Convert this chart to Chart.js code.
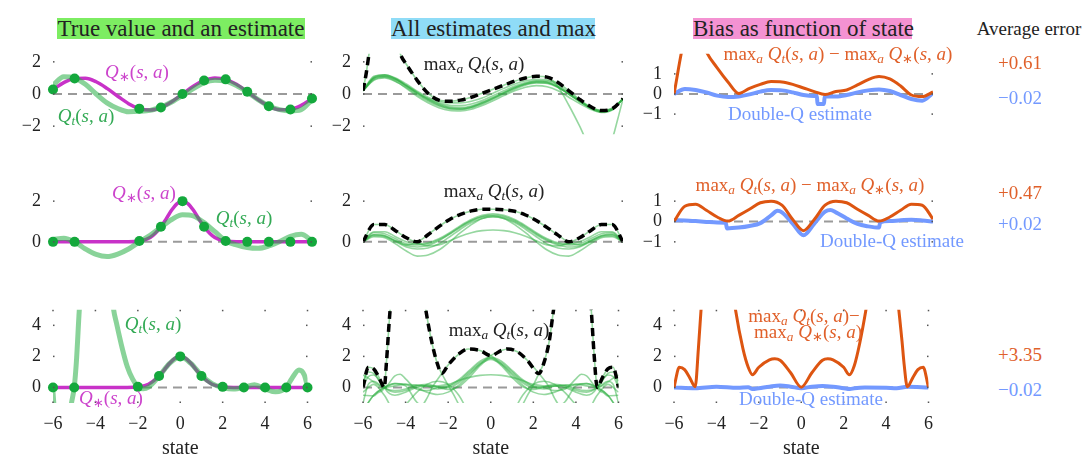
<!DOCTYPE html>
<html>
<head>
<meta charset="utf-8">
<script src="https://cdn.jsdelivr.net/npm/chart.js@4.4.1/dist/chart.umd.min.js"></script>
<style>
  body { margin: 0; background: #fff; width: 1088px; height: 464px; overflow: hidden; position: relative; font-family: "Liberation Serif", serif; }
  canvas { position: absolute; }
  .t { position: absolute; white-space: nowrap; transform: translate(-50%, -50%); font-size: 19px; line-height: 1; }
  .t sub { font-size: 0.7em; vertical-align: -0.3em; line-height: 0; }
  .title { position: absolute; height: 21px; line-height: 22px; text-align: center; font-size: 23px; white-space: nowrap; color: #222; }
</style>
</head>
<body>

<div class="title" style="left:57px;top:18px;width:248px;background:#7ded62">True value and an estimate</div>
<div class="title" style="left:391px;top:18px;width:204px;background:#8fdcf7">All estimates and max</div>
<div class="title" style="left:693px;top:18px;width:219px;background:#f492d2">Bias as function of state</div>
<div class="t" style="left:1029px;top:28px;color:#222">Average error</div>

<script>
// states on a regular grid
const states = [-6, -5.5, -5, -4.5, -4, -3.5, -3, -2.5, -2, -1.5, -1, -0.5, 0, 0.5, 1, 1.5, 2, 2.5, 3, 3.5, 4, 4.5, 5, 5.5, 6];
const sampleStates = [-6, -5, -2, -1, 0, 1, 2, 3, 4, 5, 6];
const xTicks = [-6, -4, -2, 0, 2, 4, 6];

// ---- row 1 : sin-like true value
const r1TrueQ = [0.28, 0.71, 0.96, 0.98, 0.76, 0.35, -0.14, -0.6, -0.91, -1.0, -0.84, -0.48, 0, 0.48, 0.84, 1.0, 0.91, 0.6, 0.14, -0.35, -0.76, -0.98, -0.96, -0.71, -0.28];
const r1Samples = [0.28, 0.96, -0.91, -0.84, 0, 0.84, 0.91, 0.14, -0.76, -0.96, -0.28];
const r1Estimate = [0.55, 1.08, 1.0, 0.6, 0.0, -0.55, -0.9, -1.1, -1.08, -1.02, -0.82, -0.5, -0.1, 0.33, 0.7, 0.86, 0.8, 0.52, 0.12, -0.35, -0.74, -0.97, -1.05, -0.97, -0.35];
const r1Estimates = [
  [0.2, 1.0, 1.15, 0.95, 0.55, 0.1, -0.3, -0.6, -0.8, -0.85, -0.75, -0.5, -0.2, 0.1, 0.4, 0.62, 0.75, 0.72, 0.45, 0.0, -0.45, -0.85, -1.05, -0.9, -0.3],
  [0.2, 1.05, 1.2, 1.0, 0.62, 0.18, -0.2, -0.45, -0.55, -0.55, -0.45, -0.25, 0.05, 0.35, 0.62, 0.82, 0.92, 0.88, 0.68, 0.2, -0.35, -0.8, -1.05, -0.95, -0.3],
  [0.2, 0.9, 1.05, 0.8, 0.35, -0.15, -0.55, -0.85, -1.02, -1.05, -0.95, -0.72, -0.42, -0.1, 0.2, 0.42, 0.52, 0.45, 0.2, -0.2, -0.6, -0.95, -1.15, -1.0, -0.3],
  [0.2, 1.1, 1.2, 0.95, 0.5, 0.05, -0.35, -0.65, -0.85, -0.9, -0.8, -0.55, -0.25, 0.08, 0.4, 0.65, 0.8, 0.8, 0.55, 0.1, -0.4, -0.85, -1.1, -0.95, -0.3],
  [0.2, 0.95, 1.1, 0.88, 0.48, 0.02, -0.38, -0.7, -0.9, -0.95, -0.85, -0.62, -0.32, 0.0, 0.3, 0.55, 0.68, 0.65, 0.4, -0.02, -0.48, -0.88, -1.1, -0.95, -0.3],
  [0.2, 1.0, 1.1, 0.9, 0.52, 0.1, -0.28, -0.55, -0.7, -0.72, -0.62, -0.4, -0.1, 0.2, 0.5, 0.72, 0.82, 0.75, 0.45, 0.02, -0.45, -0.88, -1.12, -0.98, -0.3],
  [0.2, 0.85, 1.0, 0.78, 0.4, -0.05, -0.45, -0.75, -0.92, -0.95, -0.82, -0.58, -0.28, 0.05, 0.35, 0.6, 0.72, 0.68, 0.42, 0.0, -0.45, -0.82, -1.0, -0.88, -0.3]
];
const r1Outlier = [[-6, 0.2], [-5.85, 1.3], [-5.7, 2.7], [-5.5, 4.2], [-5, 5.5], [-4.5, 3.5], [-4.25, 2.4], [-4, 1.85], [-3.5, 0.85], [-3, 0.05], [-2.5, -0.38], [-2, -0.45], [-1.5, -0.38], [-1, -0.2], [-0.5, 0.05], [0, 0.3], [0.5, 0.55], [1, 0.8], [1.5, 1.0], [2, 1.1], [2.5, 1.05], [3, 0.45], [3.5, -0.7], [4, -2.0], [4.5, -3.4], [5, -3.8], [5.5, -2.8], [5.75, -1.6], [6, -0.3]];
const r1Max = [[-6, 0.2], [-5.85, 1.3], [-5.7, 2.7], [-5.5, 4.2], [-5, 5.5], [-4.5, 3.5], [-4.25, 2.4], [-4, 1.85], [-3.5, 0.85], [-3, 0.05], [-2.5, -0.38], [-2, -0.45], [-1.5, -0.38], [-1, -0.2], [-0.5, 0.05], [0, 0.3], [0.5, 0.55], [1, 0.8], [1.5, 1.0], [2, 1.1], [2.5, 1.05], [3, 0.72], [3.5, 0.2], [4, -0.33], [4.5, -0.78], [5, -1.03], [5.5, -0.92], [6, -0.3]];
const r1Bias = [0.0, 2.8, 3.5, 2.1, 1.3, 0.6, 0.03, 0.28, 0.48, 0.62, 0.6, 0.48, 0.3, 0.12, -0.03, 0.12, 0.2, 0.45, 0.72, 0.87, 0.75, 0.4, -0.05, -0.13, 0.1];
const r1Double = [[-6, 0], [-5.5, 0.25], [-5, 0.2], [-4.5, 0.08], [-4, -0.08], [-3.5, -0.15], [-3, -0.12], [-2.5, -0.02], [-2, 0.12], [-1.5, 0.2], [-1, 0.18], [-0.5, 0.08], [0, -0.05], [0.5, -0.1], [0.62, -0.1], [0.65, -0.5], [0.95, -0.5], [0.98, -0.12], [1.5, -0.12], [2, -0.05], [2.5, 0.08], [3, 0.18], [3.5, 0.23], [4, 0.15], [4.5, -0.05], [5, -0.25], [5.5, -0.33], [6, 0.05]];

// ---- rows 2 and 3 : bump-shaped true value
const bumpStates = [-6, -5, -4, -3, -2.5, -2, -1.5, -1, -0.75, -0.5, -0.25, 0, 0.25, 0.5, 0.75, 1, 1.5, 2, 2.5, 3, 4, 5, 6];
const bumpTrueQ = [0, 0, 0, 0, 0.0, 0.04, 0.21, 0.74, 1.14, 1.56, 1.88, 2.0, 1.88, 1.56, 1.14, 0.74, 0.21, 0.04, 0.0, 0, 0, 0, 0];
const bumpSamples = [0, 0, 0.04, 0.74, 2.0, 0.74, 0.04, 0, 0, 0, 0];

const r2Estimate = [0.12, 0.18, 0.0, -0.35, -0.62, -0.72, -0.6, -0.35, 0.0, 0.32, 0.72, 1.1, 1.33, 1.27, 0.95, 0.5, 0.05, -0.15, -0.28, -0.32, -0.2, 0.02, 0.27, 0.37, 0.05];
const r2Estimates = [
  [0.05, 0.35, 0.3, 0.05, -0.15, -0.02, 0.35, 0.75, 1.1, 1.35, 1.52, 1.6, 1.6, 1.58, 1.5, 1.32, 1.05, 0.7, 0.33, -0.02, -0.15, 0.05, 0.3, 0.35, 0.05],
  [0, 0.85, 0.85, 0.55, 0.2, -0.05, -0.2, -0.15, 0.05, 0.28, 0.45, 0.55, 0.58, 0.55, 0.45, 0.28, 0.05, -0.15, -0.2, -0.05, 0.2, 0.55, 0.85, 0.85, 0],
  [0, 0.45, 0.4, 0.15, -0.1, -0.15, -0.1, 0.1, 0.4, 0.75, 1.05, 1.25, 1.32, 1.25, 1.05, 0.75, 0.4, 0.1, -0.1, -0.15, -0.1, 0.15, 0.4, 0.45, 0],
  [0, 0.35, 0.3, 0.05, -0.18, -0.25, -0.18, 0.05, 0.38, 0.72, 1.02, 1.22, 1.28, 1.2, 1.0, 0.7, 0.35, 0.05, -0.15, -0.25, -0.2, 0.05, 0.3, 0.38, 0],
  [0, 0.25, 0.2, -0.1, -0.45, -0.7, -0.65, -0.4, 0.0, 0.45, 0.85, 1.15, 1.25, 1.15, 0.85, 0.45, 0.0, -0.4, -0.65, -0.7, -0.45, -0.1, 0.2, 0.25, 0],
  [0, 0.5, 0.5, 0.25, 0.0, -0.1, -0.05, 0.15, 0.45, 0.8, 1.1, 1.3, 1.38, 1.3, 1.1, 0.8, 0.45, 0.15, -0.05, -0.1, 0.0, 0.25, 0.5, 0.5, 0],
  [0, 0.3, 0.25, 0.0, -0.25, -0.35, -0.3, -0.1, 0.25, 0.62, 0.95, 1.15, 1.22, 1.15, 0.95, 0.62, 0.25, -0.1, -0.3, -0.35, -0.25, 0.0, 0.25, 0.3, 0]
];
const r2Max = [0, 0.85, 0.85, 0.55, 0.2, 0.0, 0.35, 0.75, 1.1, 1.35, 1.52, 1.6, 1.6, 1.58, 1.5, 1.32, 1.05, 0.7, 0.33, 0.0, 0.2, 0.55, 0.85, 0.85, 0];
const r2Bias = [0.0, 0.75, 0.85, 0.55, 0.22, 0.02, 0.3, 0.6, 0.92, 1.0, 0.8, 0.1, -0.45, 0.1, 0.8, 1.0, 0.92, 0.6, 0.3, 0.02, 0.22, 0.55, 0.85, 0.8, 0.12];
const r2Double = [[-6, 0.06], [-5.5, 0.05], [-5, 0.02], [-4.5, -0.02], [-4, -0.05], [-3.6, -0.06], [-3.55, -0.34], [-3, -0.3], [-2.5, -0.22], [-2, -0.08], [-1.5, 0.3], [-1.2, 0.53], [-1, 0.45], [-0.5, -0.1], [0, -0.68], [0.5, -0.1], [1, 0.48], [1.25, 0.56], [1.5, 0.45], [2, 0.15], [2.5, -0.12], [3, -0.24], [3.5, -0.3], [3.55, -0.04], [4, 0.02], [4.5, 0.06], [5, 0.08], [5.5, 0.05], [6, 0.0]];

const r3Estimate = [[-6, -0.3], [-5.95, -1.2], [-5.75, -3], [-5.5, -4], [-5.25, -2.5], [-5.15, -1.2], [-5, 0], [-4.9, 1.6], [-4.75, 5.2], [-4.5, 9], [-4, 13], [-3.5, 9.5], [-3.14, 5.0], [-3, 4.1], [-2.75, 2.6], [-2.5, 1.35], [-2.25, 0.55], [-2, 0.05], [-1.75, -0.08], [-1.5, 0.02], [-1, 0.72], [-0.5, 1.55], [0, 1.97], [0.5, 1.55], [1, 0.78], [1.5, 0.25], [2, 0.0], [2.5, -0.1], [3, 0.0], [3.5, 0.18], [4, -0.08], [4.5, -0.28], [5, 0.0], [5.25, 0.55], [5.6, 1.12], [5.85, 0.8], [6, 0.05]];
const r3Estimates = [
  [[-6, 0.0], [-5.75, 1.3], [-5.5, 1.2], [-5.25, 0.65], [-5, 0.0], [-4.75, -0.4], [-4.5, -0.5], [-4, -0.3], [-3.5, 0.0], [-3, 0.12], [-2.5, 0.02], [-2, -0.12], [-1.5, 0.05], [-1, 0.65], [-0.5, 1.4], [0, 1.88], [0.5, 1.4], [1, 0.65], [1.5, 0.05], [2, -0.12], [2.5, 0.02], [3, 0.12], [3.5, 0.0], [4, -0.3], [4.5, -0.5], [4.75, -0.4], [5, 0.0], [5.25, 0.65], [5.5, 1.2], [5.75, 1.3], [6, 0.0]],
  [[-6, -0.5], [-5.5, -0.55], [-5.25, -0.3], [-5, 0.0], [-4.9, 1.6], [-4.75, 4.6], [-4.5, 8.5], [-4, 12.5], [-3.5, 9.5], [-3.05, 5.0], [-2.75, 2.8], [-2.5, 1.5], [-2.3, 0.9], [-2, 0.15], [-1.75, -0.45], [-1.5, -1.1], [-1, -2.3], [0, -3.2], [1, -1.9], [1.25, -1.1], [1.5, -0.5], [2, 0.2], [2.5, 0.4], [3, 0.2], [3.5, -0.35], [4, -1.1], [4.5, -1.5], [5, -0.5], [5.5, 0.2], [6, -0.3]],
  [[-6, -0.3], [-5.5, 0.2], [-5, -0.5], [-4.5, -1.5], [-4, -1.1], [-3.5, -0.35], [-3, 0.2], [-2.5, 0.4], [-2, 0.2], [-1.5, -0.5], [-1.25, -1.1], [-1, -1.9], [0, -3.2], [1, -2.3], [1.5, -1.1], [1.75, -0.45], [2, 0.15], [2.26, 0.9], [2.5, 1.6], [2.75, 3.0], [2.95, 5.0], [3.5, 9.5], [4, 12.5], [4.5, 8.5], [4.72, 5.0], [4.85, 2.2], [5, 0.0], [5.25, -0.3], [5.5, -0.55], [6, -0.5]],
  [[-6, -1.5], [-5.5, -0.5], [-5, 0.0], [-4.5, 0.25], [-4, 0.1], [-3.5, -0.9], [-3.25, -1.15], [-3, -0.7], [-2.75, 0.0], [-2.3, 0.9], [-2, 1.45], [-1.5, 2.15], [-1.06, 2.48], [-0.5, 2.38], [0, 2.05], [0.5, 1.5], [1, 0.8], [1.5, 0.15], [2, -0.3], [2.5, -0.45], [3, -0.3], [3.5, 0.0], [4, 0.2], [4.5, 0.25], [5, 0.0], [5.5, -0.5], [6, -1.5]],
  [[-6, -1.5], [-5.5, -0.5], [-5, 0.0], [-4.5, 0.25], [-4, 0.2], [-3.5, 0.0], [-3, -0.3], [-2.5, -0.45], [-2, -0.3], [-1.5, 0.15], [-1, 0.8], [-0.5, 1.5], [0, 2.05], [0.5, 2.38], [0.8, 2.48], [1.25, 2.3], [1.75, 1.7], [2.26, 0.9], [2.75, 0.0], [3, -0.7], [3.25, -1.15], [3.5, -0.9], [4, 0.1], [4.5, 0.25], [5, 0.0], [5.5, -0.5], [6, -1.5]],
  [[-6, 0.0], [-5.75, 0.7], [-5.5, 0.8], [-5, 0.0], [-4.5, -0.3], [-4, -0.2], [-3.5, 0.1], [-3, 0.2], [-2.5, 0.05], [-2, 0.0], [-1.5, 0.3], [-1, 0.9], [-0.5, 1.5], [0, 1.8], [0.5, 1.5], [1, 0.9], [1.5, 0.3], [2, 0.0], [2.5, 0.05], [3, 0.2], [3.5, 0.1], [4, -0.2], [4.5, -0.3], [5, 0.0], [5.5, 0.8], [5.75, 0.7], [6, 0.0]],
  [[-6, 0.8], [-5.75, 0.6], [-5.5, 0.35], [-5, 0.0], [-4.5, 0.1], [-4, 0.2], [-3, 0.08], [-2, 0.2], [-1.5, 0.45], [-1, 0.65], [-0.5, 0.78], [0, 0.82], [0.5, 0.78], [1, 0.65], [1.5, 0.45], [2, 0.2], [3, 0.08], [4, 0.2], [4.5, 0.1], [5, 0.0], [5.5, 0.35], [5.75, 0.6], [6, 0.8]],
  [[-6, -1.0], [-5.75, 0.2], [-5.5, 0.4], [-5, 0.0], [-4.5, 0.75], [-4.25, 0.85], [-4, 0.55], [-3.5, -0.1], [-3, -0.2], [-2.5, 0.0], [-2, 0.1], [-1.5, 0.5], [-1, 1.1], [-0.5, 1.7], [0, 1.95], [0.5, 1.7], [1, 1.1], [1.5, 0.5], [2, 0.1], [2.5, 0.0], [3, -0.2], [3.5, -0.1], [4, 0.55], [4.25, 0.85], [4.5, 0.75], [5, 0.0], [5.5, 0.4], [5.75, 0.2], [6, -1.0]],
  [[-6, 0.4], [-5.75, 1.0], [-5.5, 0.9], [-5, 0.0], [-4.5, -0.2], [-4, -0.1], [-3.5, 0.15], [-3, 0.1], [-2.5, -0.1], [-2, 0.05], [-1.5, 0.4], [-1, 1.0], [-0.5, 1.6], [0, 1.9], [0.5, 1.6], [1, 1.0], [1.5, 0.4], [2, 0.05], [2.5, -0.1], [3, 0.1], [3.5, 0.15], [4, -0.1], [4.5, -0.2], [5, 0.0], [5.5, 0.9], [5.75, 1.0], [6, 0.4]]
];
const r3Max = [[-6, 0], [-5.75, 1.3], [-5.5, 1.2], [-5.25, 0.65], [-5, 0.0], [-4.9, 1.6], [-4.75, 4.6], [-4.5, 8.5], [-4, 12.5], [-3.5, 9.5], [-3.05, 5.0], [-2.75, 2.8], [-2.5, 1.5], [-2.3, 0.9], [-2, 1.45], [-1.5, 2.15], [-1.06, 2.48], [-0.5, 2.38], [0, 2.05], [0.5, 2.38], [0.8, 2.48], [1.25, 2.3], [1.75, 1.7], [2.26, 0.9], [2.5, 1.6], [2.75, 3.0], [2.95, 5.0], [3.5, 9.5], [4, 12.5], [4.5, 8.5], [4.72, 5.0], [4.85, 2.2], [5, 0.0], [5.25, 0.65], [5.5, 1.2], [5.75, 1.3], [6, 0]];
const r3Bias = [[-6, 0], [-5.75, 1.3], [-5.5, 1.15], [-5.25, 0.6], [-5, 0.05], [-4.85, 2.5], [-4.7, 5.5], [-4.5, 9], [-4, 13], [-3.5, 9], [-3.1, 5], [-2.75, 2.5], [-2.5, 1.3], [-2.3, 0.82], [-2, 1.3], [-1.5, 1.78], [-1.25, 1.85], [-1, 1.75], [-0.5, 0.95], [0, 0.02], [0.5, 0.95], [1, 1.75], [1.25, 1.85], [1.5, 1.78], [2, 1.3], [2.27, 0.82], [2.5, 1.4], [2.75, 2.8], [3.05, 5], [3.5, 9], [4, 13], [4.6, 5], [4.75, 3], [4.85, 1.5], [5, 0.05], [5.25, 0.6], [5.5, 1.15], [5.75, 1.3], [6, 0]];
const r3Double = [[-6, 0], [-5, -0.05], [-4, 0.05], [-3, -0.02], [-2.5, 0.02], [-2.3, -0.1], [-2, -0.05], [-1.5, 0.05], [-1, 0.12], [-0.5, 0.05], [0, -0.05], [0.5, 0.05], [1, 0.1], [1.5, 0.05], [2, -0.05], [2.3, -0.1], [2.5, -0.05], [3, 0.0], [4, -0.02], [4.5, -0.05], [5, 0.05], [6, 0.0]];

const avgErrors = [['+0.61', '\u22120.02'], ['+0.47', '+0.02'], ['+3.35', '\u22120.02']];

// panel geometry (plot area in page pixels)
const COLS = [{ l: 53, r: 312 }, { l: 363, r: 623 }, { l: 674, r: 933 }];
const ROWS = [{ t: 41, b: 147 }, { t: 168, b: 275 }, { t: 297, b: 403 }];

const MAGENTA = '#c832c8', DOT = '#14a83c', LIGHT = 'rgba(40,175,70,0.55)', THIN = 'rgba(45,175,65,0.5)';
const ORANGE = '#dd5511', BLUE = '#7399ff';

Chart.defaults.font.family = '"Liberation Serif", serif';
Chart.defaults.color = '#222';

const grid = (xs, ys) => xs.map((x, i) => ({ x, y: ys[i] }));
const pairs = p => p.map(([x, y]) => ({ x, y }));
const line = (data, color, width, order, extra) => Object.assign({
  data, borderColor: color, borderWidth: width, pointRadius: 0, fill: false,
  cubicInterpolationMode: 'monotone', order
}, extra);
const zero = () => line(grid([states[0], states[states.length - 1]], [0, 0]), '#9a9a9a', 2, 9, { borderDash: [9, 6] });
const dots = ys => ({ data: grid(sampleStates, ys), showLine: false, pointRadius: 5, pointBackgroundColor: DOT, pointBorderWidth: 0, order: 0, clip: 8 });
const minus = v => (v < 0 ? '\u2212' + Math.abs(v) : String(v));

// small tick marks on the frame edges
const tickDots = {
  id: 'tickDots',
  afterDatasetsDraw(chart, args, opts) {
    const { ctx, chartArea: a, scales } = chart;
    ctx.save();
    ctx.fillStyle = '#555';
    scales.y.ticks.forEach(t => {
      const y = scales.y.getPixelForValue(t.value);
      ctx.fillRect(a.left, y - 0.75, 1.5, 1.5);
      ctx.fillRect(a.right - 1.5, y - 0.75, 1.5, 1.5);
    });
    if (opts.x) {
      scales.x.ticks.forEach(t => {
        const x = scales.x.getPixelForValue(t.value);
        ctx.fillRect(x - 0.75, a.top, 1.5, 1.5);
        ctx.fillRect(x - 0.75, a.bottom - 1.5, 1.5, 1.5);
      });
    }
    ctx.restore();
  }
};

function panel(col, row, yMin, yMax, yTicks, datasets) {
  const c = COLS[col], r = ROWS[row];
  const showX = row === 2;
  const padL = 50, padR = 10, padT = 10, padB = showX ? 60 : 10;
  const w = c.r - c.l + padL + padR, h = r.b - r.t + padT + padB;
  const cv = document.createElement('canvas');
  cv.width = w; cv.height = h;
  cv.style.left = (c.l - padL) + 'px';
  cv.style.top = (r.t - padT) + 'px';
  cv.style.width = w + 'px';
  cv.style.height = h + 'px';
  document.body.appendChild(cv);
  new Chart(cv, {
    type: 'line',
    data: { datasets },
    plugins: [tickDots],
    options: {
      responsive: false,
      animation: false,
      layout: { padding: { left: 0, right: padR, top: padT, bottom: showX ? 0 : padB } },
      plugins: { legend: { display: false }, tooltip: { enabled: false }, tickDots: { x: showX } },
      scales: {
        x: {
          type: 'linear', min: -6, max: 6, display: showX,
          afterBuildTicks: s => { s.ticks = xTicks.map(v => ({ value: v })); },
          afterFit: s => { s.height = padB; },
          grid: { display: false, drawTicks: false },
          border: { display: false },
          ticks: { font: { size: 18 }, color: '#222', padding: 10, maxRotation: 0, callback: minus },
          title: { display: true, text: 'state', font: { size: 20, lineHeight: 1.2 }, color: '#222', padding: { top: 0, bottom: 2 } }
        },
        y: {
          type: 'linear', min: yMin, max: yMax,
          afterBuildTicks: s => { s.ticks = yTicks.map(v => ({ value: v })); },
          afterFit: s => { s.width = padL; },
          grid: { display: false, drawTicks: false },
          border: { display: false },
          ticks: { font: { size: 18 }, color: '#222', padding: 12, callback: minus }
        }
      }
    }
  });
}

// row 1
panel(0, 0, -2.5, 2.5, [-2, 0, 2], [
  zero(),
  line(grid(states, r1TrueQ), MAGENTA, 3.5, 3),
  line(grid(states, r1Estimate), LIGHT, 5, 2),
  dots(r1Samples)
]);
panel(1, 0, -2.5, 2.5, [-2, 0, 2], [
  zero(),
  ...r1Estimates.map(v => line(grid(states, v), THIN, 1.6, 3)),
  line(pairs(r1Outlier), THIN, 1.6, 3),
  line(pairs(r1Max), '#000', 3.5, 1, { borderDash: [8, 5] })
]);
panel(2, 0, -2, 2, [-1, 0, 1], [
  zero(),
  line(pairs(r1Double), BLUE, 4, 2),
  line(grid(states, r1Bias), ORANGE, 3, 1)
]);

// row 2
panel(0, 1, -1, 3, [0, 2], [
  zero(),
  line(grid(bumpStates, bumpTrueQ), MAGENTA, 3.5, 3),
  line(grid(states, r2Estimate), LIGHT, 5, 2),
  dots(bumpSamples)
]);
panel(1, 1, -1, 3, [0, 2], [
  zero(),
  ...r2Estimates.map(v => line(grid(states, v), THIN, 1.6, 3)),
  line(grid(states, r2Max), '#000', 3.5, 1, { borderDash: [8, 5] })
]);
panel(2, 1, -2, 2, [-1, 0, 1], [
  zero(),
  line(pairs(r2Double), BLUE, 4, 2),
  line(grid(states, r2Bias), ORANGE, 3, 1)
]);

// row 3
panel(0, 2, -1, 5, [0, 2, 4], [
  zero(),
  line(grid(bumpStates, bumpTrueQ), MAGENTA, 3.5, 3),
  line(pairs(r3Estimate), LIGHT, 5, 2),
  dots(bumpSamples)
]);
panel(1, 2, -1, 5, [0, 2, 4], [
  zero(),
  ...r3Estimates.map(v => line(pairs(v), THIN, 1.6, 3)),
  line(pairs(r3Max), '#000', 3.5, 1, { borderDash: [8, 5] })
]);
panel(2, 2, -1, 5, [0, 2, 4], [
  zero(),
  line(pairs(r3Double), BLUE, 4, 2),
  line(pairs(r3Bias), ORANGE, 3, 1)
]);

// text labels
const QSTAR = '<i>Q</i><sub>\u2217</sub>(<i>s</i>, <i>a</i>)';
const QT = '<i>Q</i><sub><i>t</i></sub>(<i>s</i>, <i>a</i>)';
const MAXQT = 'max<sub><i>a</i></sub> ' + QT;
const MAXQSTAR = 'max<sub><i>a</i></sub> ' + QSTAR;
const labels = [
  [137, 71, '#cc44cc', QSTAR], [86, 115, '#33aa55', QT],
  [474, 63, '#222', MAXQT],
  [838, 53, '#e0602a', MAXQT + ' \u2212 ' + MAXQSTAR], [800, 113, BLUE, 'Double-Q estimate'],
  [144, 192, '#cc44cc', QSTAR], [244, 217, '#33aa55', QT],
  [494, 190, '#222', MAXQT],
  [810, 184, '#e0602a', MAXQT + ' \u2212 ' + MAXQSTAR], [892, 240, BLUE, 'Double-Q estimate'],
  [153, 323, '#33aa55', QT], [111, 397, '#cc44cc', QSTAR],
  [499, 329, '#222', MAXQT],
  [804, 315, '#e0602a', MAXQT + '\u2212'], [808, 331, '#e0602a', MAXQSTAR], [811, 398, BLUE, 'Double-Q estimate']
];
const numY = [[62, 97], [192, 223], [354, 389]];
avgErrors.forEach((pair, i) => {
  labels.push([1020, numY[i][0], '#e0602a', pair[0]]);
  labels.push([1020, numY[i][1], BLUE, pair[1]]);
});
labels.forEach(([x, y, color, html]) => {
  const d = document.createElement('div');
  d.className = 't';
  d.style.left = x + 'px';
  d.style.top = y + 'px';
  d.style.color = color;
  d.innerHTML = html;
  document.body.appendChild(d);
});
</script>
</body>
</html>
